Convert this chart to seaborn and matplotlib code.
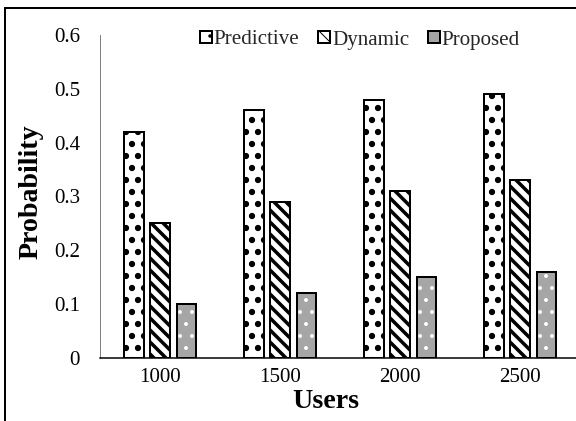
import matplotlib
matplotlib.use("Agg")
import matplotlib.pyplot as plt
import matplotlib.patches as mpatches
import seaborn as sns
import pandas as pd

users = ["1000", "1500", "2000", "2500"]
methods = ["Predictive", "Dynamic", "Proposed"]
predictive = [0.42, 0.46, 0.48, 0.49]
dynamic = [0.25, 0.29, 0.31, 0.33]
proposed = [0.10, 0.12, 0.15, 0.16]
yticks = [0, 0.1, 0.2, 0.3, 0.4, 0.5, 0.6]
yticklabels = ["0", "0.1", "0.2", "0.3", "0.4", "0.5", "0.6"]

rows = []
for m, vals in zip(methods, [predictive, dynamic, proposed]):
    for u, v in zip(users, vals):
        rows.append({"Users": u, "Method": m, "Probability": v})
df = pd.DataFrame(rows)

sns.set_theme(style="white")
plt.rcParams["font.family"] = ["Liberation Serif", "DejaVu Serif"]

DPI = 72
fig = plt.figure(figsize=(576 / DPI, 421 / DPI), dpi=DPI)
ax = fig.add_axes([100 / 576, 1 - 358 / 421, 480 / 576, 323 / 421])

gray = "#a6a6a6"
sns.barplot(data=df, x="Users", y="Probability", hue="Method",
            hue_order=methods, order=users,
            palette=["white", "white", gray], width=0.66, gap=0.25,
            edgecolor="black", linewidth=2, saturation=1,
            legend=False, ax=ax)

hatches = [".", "\\\\", "."]
hlw = [3.8, 3.5, 1.5]
for i, cont in enumerate(ax.containers):
    for p in cont.patches:
        p.set_hatch(hatches[i])
        if hasattr(p, "set_hatch_linewidth"):
            p.set_hatch_linewidth(hlw[i])
        if i == 2:
            p.set_edgecolor("white")
            p.set_linewidth(0)
            ax.add_patch(mpatches.Rectangle((p.get_x(), p.get_y()), p.get_width(),
                                            p.get_height(), fill=False,
                                            edgecolor="black", linewidth=2, zorder=p.get_zorder() + 0.1))

ax.set_ylim(0, 0.6)
ax.set_yticks(yticks)
ax.set_yticklabels(yticklabels)
ax.tick_params(axis="y", length=0, pad=20, labelsize=21, colors="black")
ax.tick_params(axis="x", length=0, pad=10, labelsize=21, colors="black")

for s in ["top", "right"]:
    ax.spines[s].set_visible(False)
ax.spines["left"].set_color("#808080")
ax.spines["left"].set_linewidth(1)
ax.spines["bottom"].set_color("black")
ax.spines["bottom"].set_linewidth(1.5)

ax.set_xlabel("Users", fontsize=28, fontweight="bold", color="black")
ax.set_ylabel("Probability", fontsize=28, fontweight="bold", color="black")
ax.xaxis.set_label_coords((326 - 100) / 480, -(402 - 358) / 323)
ax.xaxis.label.set_va("center")
ax.yaxis.set_label_coords((31 - 100) / 480, (358 - 192) / 323)
ax.yaxis.label.set_va("center")

handles = []
for i, m in enumerate(methods):
    h = mpatches.Patch(facecolor=["white", "white", gray][i], edgecolor="black",
                       hatch=[".", "\\\\", ""][i], linewidth=2, label=m)
    handles.append(h)
ax.legend(handles=handles, loc="center", bbox_to_anchor=((360 - 100) / 480, (358 - 40) / 323),
          ncol=3, frameon=False, fontsize=21, handlelength=0.55, handleheight=0.55,
          handletextpad=0.1, columnspacing=0.9, borderpad=0)

fig.patches.append(mpatches.Rectangle((5 / 576, -0.1), 2, 1 - 8 / 421 + 0.1,
                                      transform=fig.transFigure, fill=False,
                                      edgecolor="black", linewidth=2))

fig.savefig("out.png", dpi=DPI)
